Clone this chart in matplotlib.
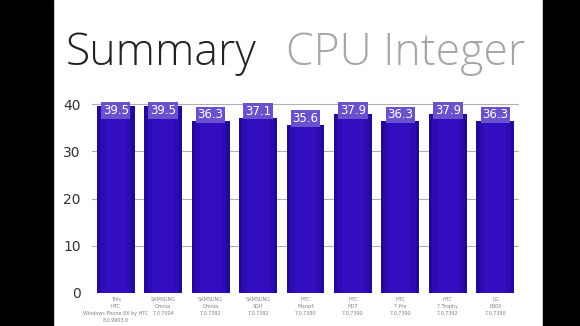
import numpy as np
import matplotlib.pyplot as plt
from matplotlib.patches import Rectangle

phones = [
    "This\nHTC\nWindows Phone 8X by HTC\n8.0.9903.0",
    "SAMSUNG\nOmnia\n7.0.7004",
    "SAMSUNG\nOmnia\n7.0.7392",
    "SAMSUNG\nSGH\n7.0.7392",
    "HTC\nMozart\n7.0.7390",
    "HTC\nHD7\n7.0.7390",
    "HTC\n7 Pro\n7.0.7390",
    "HTC\n7 Trophy\n7.0.7392",
    "LG\nE900\n7.0.7390",
]
scores = [39.5, 39.5, 36.3, 37.1, 35.6, 37.9, 36.3, 37.9, 36.3]
yticks = [0, 10, 20, 30, 40]

fig = plt.figure(figsize=(5.8, 3.26), dpi=100)
fig.patch.set_facecolor("white")

# black bands on both sides
fig.add_artist(Rectangle((0, 0), 53 / 580, 1, transform=fig.transFigure,
                         color="black", zorder=0))
fig.add_artist(Rectangle((543 / 580, 0), 37 / 580, 1, transform=fig.transFigure,
                         color="black", zorder=0))

fig.text(66 / 580, 0.80, "Summary", fontsize=32, color="#222222",
         family="Open Sans", fontweight=300, va="baseline")
fig.text(286 / 580, 0.80, "CPU Integer", fontsize=32, color="#a6a6a6",
         family="Open Sans", fontweight=300, va="baseline")

ax = fig.add_axes([92 / 580, 33 / 326, 427 / 580, 193 / 326])
x = np.arange(len(scores))

# bars with a soft shaded look
ax.bar(x, scores, width=0.8, color="#24089a", zorder=2)
ax.bar(x, scores, width=0.66, color="#2c0bb0", zorder=3)
ax.bar(x, scores, width=0.46, color="#320ec0", zorder=4)

ax.set_xlim(-0.5, len(scores) - 0.5)
ax.set_ylim(0, 40.85)
ax.set_yticks(yticks)
ax.tick_params(axis="y", labelsize=10, labelcolor="#333333", length=0, pad=8)
ax.set_xticks(x)
ax.set_xticklabels(phones, fontsize=3.5, color="#808080", linespacing=1.5)
ax.tick_params(axis="x", length=0, pad=3)

for s in ["top", "right", "left", "bottom"]:
    ax.spines[s].set_visible(False)
for t in yticks[1:]:
    ax.axhline(t, color="#b0b0b0", lw=0.8, zorder=1)

for xi, v in zip(x, scores):
    ax.text(xi, min(v, 37.3), f"{v}", ha="center", va="bottom", fontsize=8.5,
            color="white", zorder=6, clip_on=False,
            bbox=dict(boxstyle="square,pad=0.15", fc="#6a52cc", ec="none"))

fig.savefig("out.png", dpi=100)
